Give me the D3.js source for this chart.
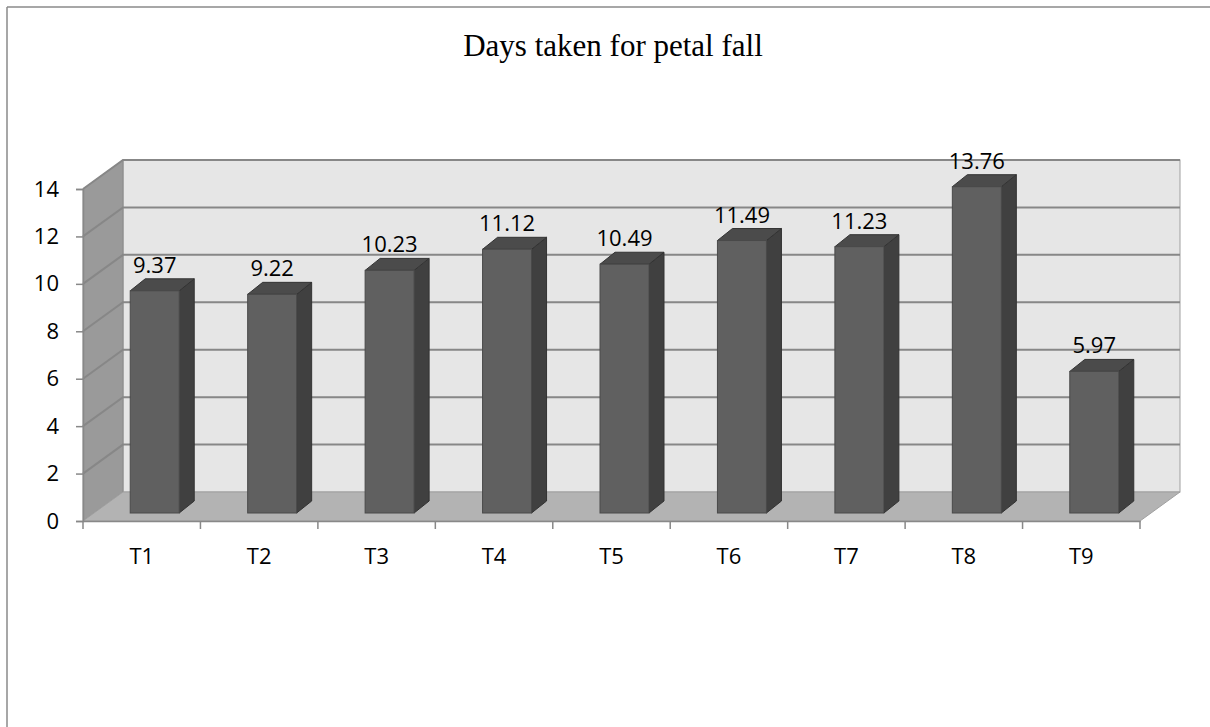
<!DOCTYPE html>
<html>
<head>
<meta charset="utf-8">
<script src="https://cdn.jsdelivr.net/npm/d3@7"></script>
<style>
  body { margin: 0; background: #fff; }
</style>
</head>
<body>
<svg id="chart" width="1210" height="727" font-family="'Open Sans', 'Noto Sans', sans-serif"></svg>
<script>
// Chart data
const categories = ["T1", "T2", "T3", "T4", "T5", "T6", "T7", "T8", "T9"];
const values = [9.37, 9.22, 10.23, 11.12, 10.49, 11.49, 11.23, 13.76, 5.97];
const yTicks = [0, 2, 4, 6, 8, 10, 12, 14];
const title = "Days taken for petal fall";

const svg = d3.select("#chart");
const labelFont = "'Open Sans', 'Noto Sans', sans-serif";

// Frame: left and top border only
svg.append("line").attr("x1", 7).attr("y1", 7).attr("x2", 1210).attr("y2", 7)
  .attr("stroke", "#8a8a8a").attr("stroke-width", 1.5);
svg.append("line").attr("x1", 7).attr("y1", 7).attr("x2", 7).attr("y2", 727)
  .attr("stroke", "#8a8a8a").attr("stroke-width", 1.5);

// Plot geometry (front plane), depth shift to back wall
const x0 = 83, x1 = 1140;
const depth = { dx: 40, dy: -29 };

const x = d3.scaleBand().domain(categories).range([x0, x1]).paddingInner(0).paddingOuter(0);
const y = d3.scaleLinear().domain([0, 14]).range([521, 189]);

const pts = arr => arr.map(p => p.join(",")).join(" ");
const g = svg.append("g");

// Back wall
g.append("rect")
  .attr("x", x0 + depth.dx).attr("y", y(14) + depth.dy)
  .attr("width", x1 - x0).attr("height", y(0) - y(14))
  .attr("fill", "#e6e6e6").attr("stroke", "#a0a0a0").attr("stroke-width", 1);

// Left wall
g.append("polygon")
  .attr("points", pts([
    [x0, y(0)], [x0, y(14)],
    [x0 + depth.dx, y(14) + depth.dy], [x0 + depth.dx, y(0) + depth.dy]
  ]))
  .attr("fill", "#9a9a9a").attr("stroke", "#8a8a8a");

// Floor
g.append("polygon")
  .attr("points", pts([
    [x0, y(0)], [x1, y(0)],
    [x1 + depth.dx, y(0) + depth.dy], [x0 + depth.dx, y(0) + depth.dy]
  ]))
  .attr("fill", "#b3b3b3").attr("stroke", "#a0a0a0");

// Gridlines on left wall and back wall
yTicks.filter(d => d > 0).forEach(d => {
  g.append("polyline")
    .attr("points", pts([
      [x0, y(d)], [x0 + depth.dx, y(d) + depth.dy], [x1 + depth.dx, y(d) + depth.dy]
    ]))
    .attr("fill", "none").attr("stroke", "#878787").attr("stroke-width", 2);
});

// Y axis
const yAxis = d3.axisLeft(y).tickValues(yTicks).tickSize(7).tickPadding(17);
const yg = svg.append("g").attr("transform", `translate(${x0},0)`).call(yAxis);
yg.select(".domain").attr("stroke", "#888").attr("stroke-width", 1.5);
yg.selectAll(".tick line").attr("stroke", "#888").attr("stroke-width", 1.5);
yg.selectAll(".tick text").attr("font-size", 22).attr("fill", "#000")
  .attr("font-family", labelFont);

// X axis
const xAxis = d3.axisBottom(x).tickSize(8).tickPadding(19).tickSizeOuter(0);
const xg = svg.append("g").attr("transform", `translate(0,${y(0)})`).call(xAxis);
xg.select(".domain").attr("stroke", "#888").attr("stroke-width", 1.5);
xg.selectAll(".tick line").remove();
xg.selectAll(".edge")
  .data(d3.range(categories.length + 1))
  .enter().append("line")
  .attr("x1", i => x0 + i * x.step()).attr("x2", i => x0 + i * x.step())
  .attr("y1", 0).attr("y2", 8)
  .attr("stroke", "#888").attr("stroke-width", 1.5);
xg.selectAll(".tick text").attr("font-size", 22).attr("fill", "#000")
  .attr("font-family", labelFont);

// Bars (3D columns)
const barW = 49, barOff = { dx: 13, dy: -8 }, barDepth = { dx: 15, dy: -12 };
const bars = svg.append("g").selectAll("g.bar")
  .data(categories.map((c, i) => ({ c, v: values[i] })))
  .enter().append("g").attr("class", "bar");

bars.each(function (d) {
  const b = d3.select(this);
  const cx = x(d.c) + x.bandwidth() / 2 + barOff.dx;
  const left = cx - barW / 2, right = cx + barW / 2;
  const bottom = y(0) + barOff.dy, top = y(d.v) + barOff.dy;
  // side
  b.append("polygon")
    .attr("points", pts([[right, bottom], [right, top],
      [right + barDepth.dx, top + barDepth.dy], [right + barDepth.dx, bottom + barDepth.dy]]))
    .attr("fill", "#404040").attr("stroke", "#333").attr("stroke-width", 1);
  // top
  b.append("polygon")
    .attr("points", pts([[left, top], [right, top],
      [right + barDepth.dx, top + barDepth.dy], [left + barDepth.dx, top + barDepth.dy]]))
    .attr("fill", "#4b4b4b").attr("stroke", "#333").attr("stroke-width", 1);
  // front
  b.append("rect")
    .attr("x", left).attr("y", top).attr("width", barW).attr("height", bottom - top)
    .attr("fill", "#606060").attr("stroke", "#4a4a4a").attr("stroke-width", 1);
  // value label
  b.append("text")
    .attr("x", cx).attr("y", top + barDepth.dy - 6)
    .attr("text-anchor", "middle").attr("font-size", 22).attr("fill", "#000")
    .attr("font-family", labelFont)
    .text(d.v.toFixed(2));
});

// Title
svg.append("text")
  .attr("x", 613).attr("y", 56)
  .attr("text-anchor", "middle")
  .attr("font-family", "'Liberation Serif', 'Times New Roman', serif")
  .attr("font-size", 31).attr("fill", "#000")
  .text(title);
</script>
</body>
</html>
